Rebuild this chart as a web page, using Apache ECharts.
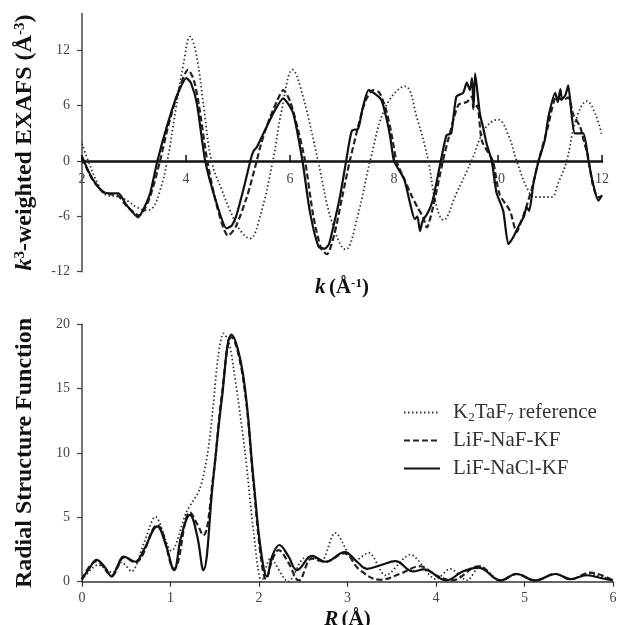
<!DOCTYPE html>
<html>
<head>
<meta charset="utf-8">
<script src="https://cdn.jsdelivr.net/npm/echarts@6/dist/echarts.min.js"></script>
<style>
  html, body { margin: 0; padding: 0; background: #fff; }
  #chart { width: 618px; height: 625px; }
</style>
</head>
<body>
<div id="chart"></div>
<script>
// top panel: k3-weighted EXAFS
const kRef = [2.0, 2.12, 2.3, 2.47, 2.73, 2.9, 3.05, 3.24, 3.37, 3.5, 3.64, 3.8, 3.95, 4.08, 4.2, 4.35, 4.49, 4.7, 4.85, 5.04, 5.23, 5.42, 5.67, 5.84, 6.05, 6.25, 6.54, 6.8, 7.07, 7.3, 7.54, 7.85, 8.21, 8.45, 8.66, 8.8, 8.95, 9.2, 9.49, 9.75, 10.0, 10.2, 10.36, 10.58, 10.71, 11.03, 11.15, 11.32, 11.5, 11.71, 11.88, 12.0]
const exafsRef = [1.9, 0, -2.4, -3.7, -3.9, -4.4, -5.0, -5.35, -5.0, -3.2, 0, 5.5, 10.5, 13.5, 11.5, 5.5, 0, -3.3, -5.4, -7.5, -8.4, -6.1, 0, 5.5, 9.9, 7.0, 0, -6.5, -9.6, -6.0, 0, 6.0, 8.1, 4.5, 0, -4.5, -6.4, -3.5, 0, 3.5, 4.5, 2.8, 0, -3.2, -3.9, -3.9, -2.5, 0, 4.5, 6.5, 5.0, 2.7]

const kNaF = [2.0, 2.2, 2.4, 2.55, 2.7, 2.86, 3.1, 3.3, 3.5, 3.65, 3.85, 4.04, 4.15, 4.25, 4.41, 4.6, 4.81, 4.95, 5.17, 5.36, 5.45, 5.6, 5.75, 5.87, 6.0, 6.15, 6.29, 6.45, 6.6, 6.71, 6.85, 7.0, 7.15, 7.3, 7.45, 7.6, 7.72, 7.85, 7.95, 8.05, 8.2, 8.35, 8.45, 8.56, 8.63, 8.75, 8.94, 9.05, 9.24, 9.4, 9.5, 9.53, 9.6, 9.69, 9.9, 10.03, 10.23, 10.36, 10.45, 10.52, 10.65, 10.78, 10.95, 11.13, 11.25, 11.35, 11.45, 11.58, 11.66, 11.73, 11.82, 11.92, 12.0]
const exafsNaF = [0.3, -2.0, -3.3, -3.6, -3.8, -4.9, -5.9, -4.0, 0, 3.6, 7.5, 9.9, 8.8, 6.0, 0, -5.0, -8.1, -7.2, -3.9, 0, 2.0, 4.5, 6.5, 7.7, 6.5, 3.5, 0, -6.0, -9.5, -10.1, -8.0, -4.0, 0, 3.5, 6.5, 7.7, 7.4, 5.5, 3.0, 0, -2.0, -3.9, -5.0, -6.1, -7.2, -5.0, 0, 2.5, 6.1, 6.4, 7.0, 5.6, 6.0, 2.2, 0, -3.6, -5.4, -7.7, -6.5, -5.4, -3.0, 0, 3.5, 7.0, 6.6, 6.9, 5.0, 3.7, 2.0, 0.5, -2.5, -3.9, -3.9]

const kNaCl = [2.0, 2.1, 2.22, 2.41, 2.57, 2.7, 2.86, 3.08, 3.2, 3.31, 3.45, 3.63, 3.82, 4.01, 4.1, 4.21, 4.37, 4.59, 4.78, 4.88, 4.98, 5.13, 5.25, 5.3, 5.36, 5.49, 5.68, 5.87, 6.06, 6.24, 6.38, 6.55, 6.67, 6.75, 6.83, 6.96, 7.08, 7.19, 7.31, 7.4, 7.51, 7.63, 7.76, 7.86, 7.93, 8.0, 8.13, 8.2, 8.31, 8.4, 8.45, 8.5, 8.55, 8.63, 8.7, 8.76, 8.9, 9.01, 9.1, 9.2, 9.33, 9.4, 9.46, 9.5, 9.53, 9.56, 9.65, 9.72, 9.78, 9.88, 9.97, 10.1, 10.2, 10.29, 10.42, 10.5, 10.55, 10.6, 10.68, 10.78, 10.9, 10.97, 11.1, 11.15, 11.2, 11.23, 11.3, 11.35, 11.42, 11.48, 11.64, 11.74, 11.83, 11.93, 12.0]
const exafsNaCl = [0.5, -0.8, -2.1, -3.4, -3.5, -3.5, -4.8, -6.1, -5.0, -3.5, 0, 3.7, 7.0, 9.0, 8.4, 6.2, 0, -4.6, -7.3, -7.0, -5.7, -2.5, 0.3, 1.1, 1.5, 3.0, 5.2, 6.8, 5.2, 0, -5.4, -9.3, -9.5, -9.0, -7.2, -3.9, 0, 3.3, 3.5, 5.8, 7.7, 7.3, 6.6, 4.5, 2.5, 0, -1.3, -2.0, -4.6, -6.3, -6.0, -7.6, -6.5, -5.8, -5.0, -3.9, 0, 2.8, 3.0, 7.0, 7.4, 8.5, 7.7, 9.0, 5.8, 9.5, 5.2, 3.5, 1.9, 0, -3.4, -5.4, -9.0, -8.3, -6.8, -6.0, -5.0, -5.4, -2.5, 0, 2.25, 4.8, 7.4, 6.4, 7.8, 6.7, 7.2, 8.2, 4.8, 3.0, 3.0, 0, -2.5, -4.3, -3.7]

// bottom panel: radial structure function
const rRef = [0, 0.18, 0.35, 0.45, 0.56, 0.7, 0.83, 1.01, 1.18, 1.33, 1.42, 1.48, 1.54, 1.6, 1.66, 1.71, 1.84, 1.94, 2.03, 2.13, 2.33, 2.5, 2.6, 2.7, 2.86, 3.03, 3.07, 3.24, 3.43, 3.71, 4.0, 4.16, 4.35, 4.5, 4.73, 4.91, 5.12, 5.35, 5.52, 5.72, 6.0]
const rsfRef = [0.1, 1.3, 0.7, 1.5, 0.8, 3.0, 5.05, 2.4, 5.4, 7.2, 10.0, 13.5, 17.6, 19.3, 18.6, 16.7, 10.2, 3.8, 0, 1.8, 0, 1.8, 1.9, 1.55, 3.8, 1.9, 1.6, 2.25, 0.5, 2.1, 0.2, 1.0, 0.1, 1.2, 0.1, 0.6, 0.1, 0.6, 0.2, 0.6, 0.1]

const rNaF = [0, 0.166, 0.336, 0.48, 0.6, 0.85, 1.04, 1.22, 1.3, 1.37, 1.48, 1.58, 1.69, 1.82, 1.94, 2.02, 2.08, 2.15, 2.22, 2.33, 2.45, 2.6, 2.75, 2.96, 3.14, 3.37, 3.59, 3.82, 4.0, 4.18, 4.48, 4.73, 4.91, 5.12, 5.35, 5.52, 5.74, 6.0]
const rsfNaF = [0.2, 1.6, 0.5, 1.9, 1.5, 4.4, 1.0, 5.4, 4.5, 3.6, 8.0, 14.5, 19.0, 15.8, 7.5, 2.0, 0.2, 1.7, 2.45, 1.5, 0.1, 1.8, 1.55, 2.2, 0.9, 0.15, 0.6, 1.2, 0.5, 0.1, 1.2, 0.1, 0.6, 0.1, 0.6, 0.2, 0.7, 0.1]

const rNaCl = [0, 0.08, 0.166, 0.25, 0.336, 0.4, 0.47, 0.6, 0.7, 0.85, 0.95, 1.04, 1.12, 1.22, 1.3, 1.37, 1.48, 1.58, 1.69, 1.82, 1.94, 2.02, 2.09, 2.15, 2.23, 2.33, 2.43, 2.6, 2.75, 2.97, 3.1, 3.22, 3.38, 3.54, 3.74, 3.86, 4.12, 4.3, 4.48, 4.73, 4.91, 5.12, 5.35, 5.52, 5.7, 5.89, 6.0]
const rsfNaCl = [0.2, 1.0, 1.7, 1.2, 0.4, 1.2, 1.95, 1.55, 2.5, 4.3, 2.8, 0.9, 3.5, 5.2, 3.6, 0.9, 7.8, 14.2, 19.2, 16.1, 7.8, 2.5, 0.4, 2.0, 2.85, 2.0, 0.9, 2.0, 1.55, 2.3, 1.6, 1.0, 1.3, 1.6, 0.8, 0.95, 0.1, 0.8, 1.1, 0.1, 0.6, 0.1, 0.6, 0.2, 0.5, 0.25, 0.1]

const names = ['K2TaF7 reference', 'LiF-NaF-KF', 'LiF-NaCl-KF']

const serif = '"Liberation Serif", "Times New Roman", serif'
const pair = (xs, ys) => xs.map((x, i) => [x, ys[i]])

const myChart = echarts.init(document.getElementById('chart'))

const tickLabel = {
  fontFamily: serif,
  fontSize: 14,
  color: '#444'
}

const nameRich = {
  i: {fontFamily: serif, fontSize: 21, fontWeight: 'bold', fontStyle: 'italic', color: '#111'},
  b: {fontFamily: serif, fontSize: 21, fontWeight: 'bold', color: '#111'},
  sup: {fontFamily: serif, fontSize: 13, fontWeight: 'bold', color: '#111', verticalAlign: 'top', padding: [0, 0, 8, 0]}
}
const yNameRich = {
  i: {fontFamily: serif, fontSize: 24, fontWeight: 'bold', fontStyle: 'italic', color: '#111'},
  b: {fontFamily: serif, fontSize: 24, fontWeight: 'bold', color: '#111'},
  sup: {fontFamily: serif, fontSize: 15, fontWeight: 'bold', color: '#111', verticalAlign: 'top', padding: [0, 0, 9, 0]}
}

// line looks
const refLine = {color: '#333', width: 1.8, type: [1.5, 2.5]}
const nafLine = {color: '#222', width: 2.2, type: [6, 3]}
const naclLine = {color: '#111', width: 2.2, type: 'solid'}

const option = {
  animation: false,
  backgroundColor: '#fff',
  grid: [
    {left: 82, right: 16, top: 13.5, bottom: 353.3, outerBoundsMode: 'none'},
    {left: 82, right: 5, top: 324.3, bottom: 43.3, outerBoundsMode: 'none'}
  ],
  legend: {
    data: names,
    orient: 'vertical',
    left: 398,
    top: 396,
    itemWidth: 36,
    itemHeight: 14,
    itemGap: 5,
    itemStyle: {opacity: 0},
    textStyle: {
      fontFamily: serif,
      fontSize: 21,
      color: '#333',
      lineHeight: 23,
      padding: [0, 0, 0, 8],
      rich: {
        t: {fontFamily: serif, fontSize: 21, color: '#333'},
        sub: {fontFamily: serif, fontSize: 13, color: '#333', verticalAlign: 'bottom', padding: [8, 0, 0, 0]}
      }
    },
    formatter: function (name) {
      if (name === names[0]) return '{t|K}{sub|2}{t|TaF}{sub|7}{t| reference}'
      return '{t|' + name + '}'
    }
  },
  xAxis: [
    {
      gridIndex: 0,
      type: 'value',
      min: 2,
      max: 12,
      interval: 2,
      axisLine: {onZero: true, lineStyle: {color: '#111', width: 2.5}},
      axisTick: {show: true, inside: true, length: 6, lineStyle: {color: '#111', width: 1.5}},
      // labels sit just under the zero line, not at the grid bottom
      axisLabel: Object.assign({margin: -99}, tickLabel),
      splitLine: {show: false},
      name: '{i|k} {b|(Å}{sup|-1}{b|)}',
      nameLocation: 'middle',
      nameGap: 5,
      nameTextStyle: {rich: nameRich}
    },
    {
      gridIndex: 1,
      type: 'value',
      min: 0,
      max: 6,
      interval: 1,
      axisLine: {lineStyle: {color: '#333', width: 1.5}},
      axisTick: {show: true, length: 5, lineStyle: {color: '#333', width: 1.2}},
      axisLabel: Object.assign({margin: 10}, tickLabel),
      splitLine: {show: false},
      name: '{i|R} {b|(Å)}',
      nameLocation: 'middle',
      nameGap: 27,
      nameTextStyle: {rich: nameRich}
    }
  ],
  yAxis: [
    {
      gridIndex: 0,
      type: 'value',
      min: -12,
      max: 16,
      axisLine: {show: true, onZero: false, lineStyle: {color: '#444', width: 1.5}},
      axisTick: {show: true, length: 5, customValues: [-12, -6, 0, 6, 12], lineStyle: {color: '#444', width: 1.2}},
      axisLabel: Object.assign({margin: 12, customValues: [-12, -6, 0, 6, 12]}, tickLabel),
      splitLine: {show: false},
      name: '{i|k}{sup|3}{b|-weighted EXAFS (Å}{sup|-3}{b|)}',
      nameLocation: 'middle',
      nameGap: 45,
      nameTextStyle: {rich: yNameRich}
    },
    {
      gridIndex: 1,
      type: 'value',
      min: 0,
      max: 20,
      interval: 5,
      axisLine: {show: true, lineStyle: {color: '#444', width: 1.5}},
      axisTick: {show: true, length: 5, lineStyle: {color: '#444', width: 1.2}},
      axisLabel: Object.assign({margin: 12}, tickLabel),
      splitLine: {show: false},
      name: 'Radial Structure Function',
      nameLocation: 'middle',
      nameGap: 45,
      nameTextStyle: {fontFamily: serif, fontSize: 24, fontWeight: 'bold', color: '#111'}
    }
  ],
  series: [
    {name: names[0], type: 'line', xAxisIndex: 0, yAxisIndex: 0, showSymbol: false, symbol: 'none', smooth: 0.4, lineStyle: refLine, color: '#333', data: pair(kRef, exafsRef)},
    {name: names[1], type: 'line', xAxisIndex: 0, yAxisIndex: 0, showSymbol: false, symbol: 'none', smooth: 0.25, lineStyle: nafLine, color: '#222', data: pair(kNaF, exafsNaF)},
    {name: names[2], type: 'line', xAxisIndex: 0, yAxisIndex: 0, showSymbol: false, symbol: 'none', smooth: 0.2, lineStyle: naclLine, color: '#111', data: pair(kNaCl, exafsNaCl)},
    {name: names[0], type: 'line', xAxisIndex: 1, yAxisIndex: 1, showSymbol: false, symbol: 'none', smooth: 0.3, lineStyle: refLine, color: '#333', data: pair(rRef, rsfRef)},
    {name: names[1], type: 'line', xAxisIndex: 1, yAxisIndex: 1, showSymbol: false, symbol: 'none', smooth: 0.4, lineStyle: nafLine, color: '#222', data: pair(rNaF, rsfNaF)},
    {name: names[2], type: 'line', xAxisIndex: 1, yAxisIndex: 1, showSymbol: false, symbol: 'none', smooth: 0.4, lineStyle: naclLine, color: '#111', data: pair(rNaCl, rsfNaCl)}
  ]
}

myChart.setOption(option)
</script>
</body>
</html>
